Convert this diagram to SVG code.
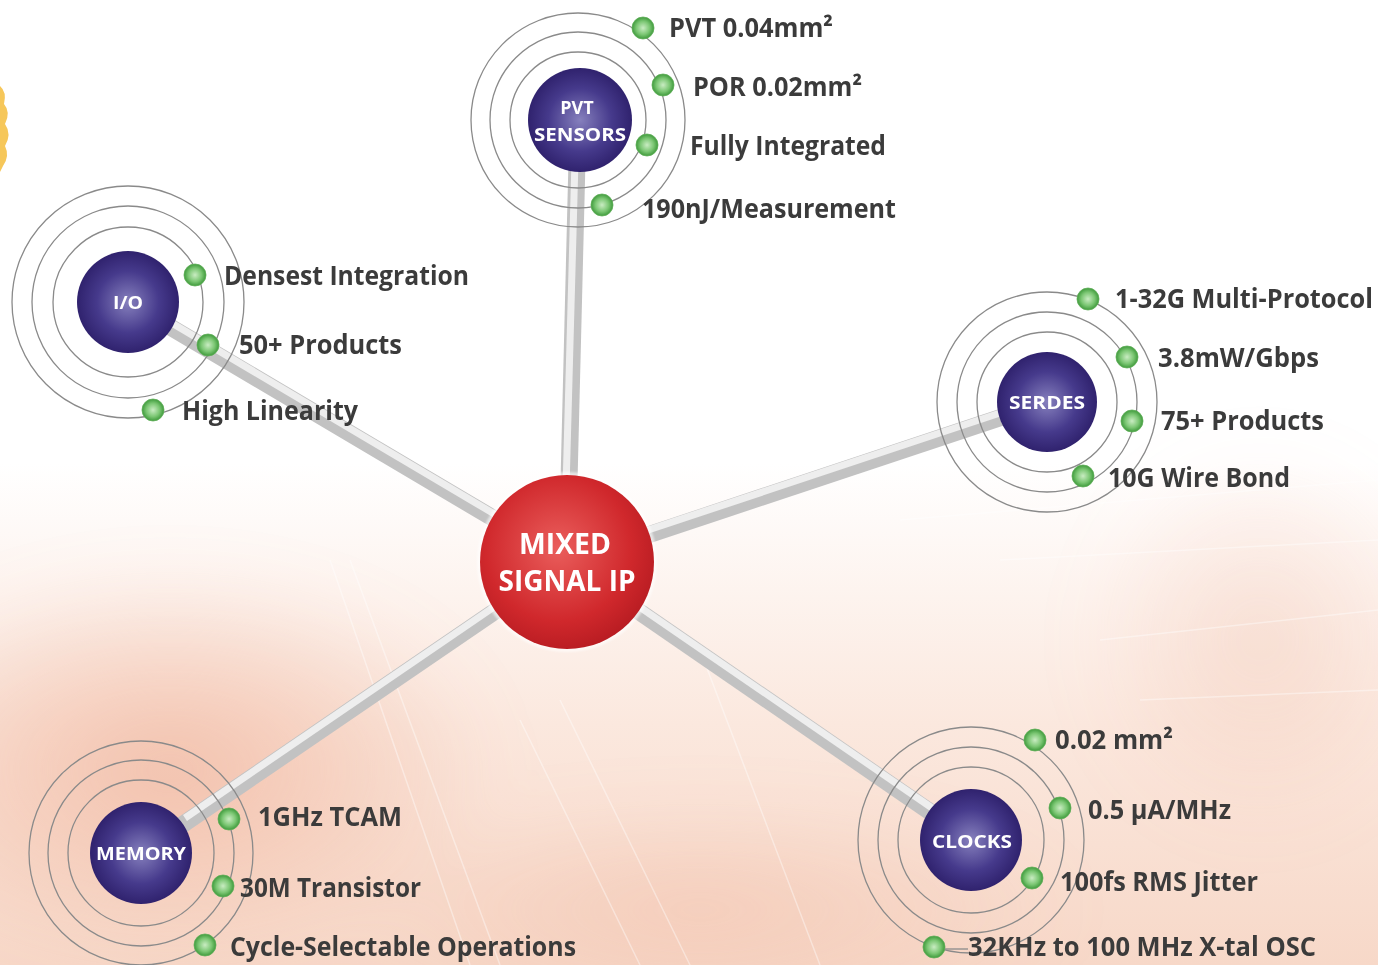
<svg xmlns="http://www.w3.org/2000/svg" width="1378" height="965" viewBox="0 0 1378 965">
  <defs>
    <linearGradient id="bgFade" x1="0" y1="0" x2="0" y2="1">
      <stop offset="0" stop-color="#ffffff"/>
      <stop offset="0.48" stop-color="#ffffff"/>
      <stop offset="0.75" stop-color="#fbe8de"/>
      <stop offset="1" stop-color="#f7d8c8"/>
    </linearGradient>
    <radialGradient id="warmBlob" cx="0.5" cy="0.5" r="0.5">
      <stop offset="0" stop-color="#f0b49c" stop-opacity="0.75"/>
      <stop offset="1" stop-color="#f0b49c" stop-opacity="0"/>
    </radialGradient>
    <radialGradient id="hubFill" cx="0.45" cy="0.42" r="0.6">
      <stop offset="0" stop-color="#ea5e5c"/>
      <stop offset="0.7" stop-color="#d0282c"/>
      <stop offset="1" stop-color="#b81c22"/>
    </radialGradient>
    <radialGradient id="nodeFill" cx="0.5" cy="0.5" r="0.55">
      <stop offset="0" stop-color="#8680bd"/>
      <stop offset="0.55" stop-color="#463a8c"/>
      <stop offset="1" stop-color="#2a1c66"/>
    </radialGradient>
    <radialGradient id="dotFill" cx="0.5" cy="0.5" r="0.5">
      <stop offset="0" stop-color="#c9ecc2"/>
      <stop offset="0.6" stop-color="#7cc774"/>
      <stop offset="1" stop-color="#3f9a3c"/>
    </radialGradient>
    <filter id="soft" x="-20%" y="-20%" width="140%" height="140%">
      <feGaussianBlur stdDeviation="1.2"/>
    </filter>
    <filter id="haze" x="-50%" y="-50%" width="200%" height="200%">
      <feGaussianBlur stdDeviation="30"/>
    </filter>
  </defs>
  <style>
    .ring { fill: none; stroke: #8a8a8a; stroke-width: 1.3; }
    .core { fill: url(#nodeFill); }
    .dot { fill: url(#dotFill); stroke: #5fae58; stroke-width: 0.8; }
    .label { font-family: "Open Sans", "Liberation Sans", sans-serif; font-weight: 700; font-size: 26px; fill: #3b3b3b; }
    .nodeText { font-family: "Open Sans", "Liberation Sans", sans-serif; font-weight: 700; font-size: 18px; fill: #ffffff; text-anchor: middle; }
    .hubText { font-family: "Open Sans", "Liberation Sans", sans-serif; font-weight: 700; font-size: 28px; fill: #ffffff; text-anchor: middle; }
    .barBase { stroke: #c2c2c2; stroke-width: 17; stroke-linecap: butt; }
    .barShine { stroke: #eeeeee; stroke-width: 7; stroke-linecap: butt; }
    .trace { stroke: #ffffff; stroke-width: 1.5; fill: none; opacity: 0.4; }
  </style>

  <!-- background wash -->
  <rect x="0" y="0" width="1378" height="965" fill="url(#bgFade)"/>
  <g filter="url(#haze)">
    <ellipse cx="170" cy="770" rx="330" ry="200" fill="url(#warmBlob)"/>
    <ellipse cx="700" cy="910" rx="380" ry="110" fill="url(#warmBlob)" opacity="0.5"/>
    <ellipse cx="1260" cy="640" rx="180" ry="200" fill="url(#warmBlob)" opacity="0.4"/>
  </g>
  <!-- faint circuit traces -->
  <g class="trace">
    <path d="M330 560 L470 965"/>
    <path d="M350 560 L500 965"/>
    <path d="M520 720 L640 965"/>
    <path d="M560 700 L690 965"/>
    <path d="M700 650 L820 965"/>
    <path d="M900 520 L1378 480"/>
    <path d="M1000 560 L1378 540"/>
    <path d="M1100 640 L1378 610"/>
    <path d="M1140 700 L1378 690"/>
  </g>

  <!-- yellow burst at the left edge -->
  <path d="M0 86 Q7 92 4 104 Q11 112 5 124 Q12 134 5 146 Q10 156 3 166 L0 172 Z" fill="#f6c75a"/>

  <!-- connectors -->
  <g id="connectors">
    <line class="barBase" x1="567" y1="562" x2="578" y2="120"/>
    <line class="barShine" x1="564" y1="562" x2="575" y2="160"/>
    <line class="barBase" x1="567" y1="562" x2="128" y2="302"/>
    <line class="barShine" x1="567" y1="557" x2="170" y2="322"/>
    <line class="barBase" x1="567" y1="562" x2="1047" y2="402"/>
    <line class="barShine" x1="567" y1="557" x2="1000" y2="413"/>
    <line class="barBase" x1="567" y1="562" x2="141" y2="853"/>
    <line class="barShine" x1="567" y1="557" x2="185" y2="818"/>
    <line class="barBase" x1="567" y1="562" x2="971" y2="840"/>
    <line class="barShine" x1="567" y1="557" x2="935" y2="810"/>
  </g>

  <!-- PVT sensors -->
  <g id="node-pvt">
    <circle class="ring" cx="578" cy="120" r="68"/>
    <circle class="ring" cx="578" cy="120" r="88"/>
    <circle class="ring" cx="578" cy="120" r="107"/>
    <circle class="core" cx="580" cy="120" r="52"/>
    <text class="nodeText" x="577" y="114">PVT</text>
    <text class="nodeText" x="580" y="141" textLength="92" lengthAdjust="spacingAndGlyphs">SENSORS</text>
    <circle class="dot" cx="643" cy="28" r="11"/>
    <circle class="dot" cx="663" cy="85" r="11"/>
    <circle class="dot" cx="647" cy="145" r="11"/>
    <circle class="dot" cx="602" cy="205" r="11"/>
    <text class="label" x="669" y="37" textLength="164" lengthAdjust="spacingAndGlyphs">PVT 0.04mm²</text>
    <text class="label" x="693" y="96" textLength="169" lengthAdjust="spacingAndGlyphs">POR 0.02mm²</text>
    <text class="label" x="690" y="155" textLength="196" lengthAdjust="spacingAndGlyphs">Fully Integrated</text>
    <text class="label" x="642" y="218" textLength="254" lengthAdjust="spacingAndGlyphs">190nJ/Measurement</text>
  </g>

  <!-- I/O -->
  <g id="node-io">
    <circle class="ring" cx="128" cy="302" r="75"/>
    <circle class="ring" cx="128" cy="302" r="96"/>
    <circle class="ring" cx="128" cy="302" r="116"/>
    <circle class="core" cx="128" cy="302" r="51"/>
    <text class="nodeText" x="128" y="309" textLength="30" lengthAdjust="spacingAndGlyphs">I/O</text>
    <circle class="dot" cx="195" cy="275" r="11"/>
    <circle class="dot" cx="208" cy="345" r="11"/>
    <circle class="dot" cx="153" cy="410" r="11"/>
    <text class="label" x="224" y="285" textLength="245" lengthAdjust="spacingAndGlyphs">Densest Integration</text>
    <text class="label" x="239" y="354" textLength="163" lengthAdjust="spacingAndGlyphs">50+ Products</text>
    <text class="label" x="182" y="420" textLength="176" lengthAdjust="spacingAndGlyphs">High Linearity</text>
  </g>

  <!-- SERDES -->
  <g id="node-serdes">
    <circle class="ring" cx="1047" cy="402" r="70"/>
    <circle class="ring" cx="1047" cy="402" r="90"/>
    <circle class="ring" cx="1047" cy="402" r="110"/>
    <circle class="core" cx="1047" cy="402" r="50"/>
    <text class="nodeText" x="1047" y="409" textLength="76" lengthAdjust="spacingAndGlyphs">SERDES</text>
    <circle class="dot" cx="1088" cy="299" r="11"/>
    <circle class="dot" cx="1127" cy="357" r="11"/>
    <circle class="dot" cx="1132" cy="421" r="11"/>
    <circle class="dot" cx="1083" cy="476" r="11"/>
    <text class="label" x="1115" y="308" textLength="258" lengthAdjust="spacingAndGlyphs">1-32G Multi-Protocol</text>
    <text class="label" x="1158" y="367" textLength="161" lengthAdjust="spacingAndGlyphs">3.8mW/Gbps</text>
    <text class="label" x="1161" y="430" textLength="163" lengthAdjust="spacingAndGlyphs">75+ Products</text>
    <text class="label" x="1108" y="487" textLength="182" lengthAdjust="spacingAndGlyphs">10G Wire Bond</text>
  </g>

  <!-- Memory -->
  <g id="node-memory">
    <circle class="ring" cx="141" cy="853" r="73"/>
    <circle class="ring" cx="141" cy="853" r="93"/>
    <circle class="ring" cx="141" cy="853" r="112"/>
    <circle class="core" cx="141" cy="853" r="51"/>
    <text class="nodeText" x="141" y="860" textLength="90" lengthAdjust="spacingAndGlyphs">MEMORY</text>
    <circle class="dot" cx="229" cy="819" r="11"/>
    <circle class="dot" cx="223" cy="886" r="11"/>
    <circle class="dot" cx="205" cy="945" r="11"/>
    <text class="label" x="258" y="826" textLength="144" lengthAdjust="spacingAndGlyphs">1GHz TCAM</text>
    <text class="label" x="240" y="897" textLength="181" lengthAdjust="spacingAndGlyphs">30M Transistor</text>
    <text class="label" x="230" y="956" textLength="346" lengthAdjust="spacingAndGlyphs">Cycle-Selectable Operations</text>
  </g>

  <!-- Clocks -->
  <g id="node-clocks">
    <circle class="ring" cx="971" cy="840" r="73"/>
    <circle class="ring" cx="971" cy="840" r="93"/>
    <circle class="ring" cx="971" cy="840" r="113"/>
    <circle class="core" cx="971" cy="840" r="51"/>
    <text class="nodeText" x="972" y="848" textLength="80" lengthAdjust="spacingAndGlyphs">CLOCKS</text>
    <circle class="dot" cx="1035" cy="740" r="11"/>
    <circle class="dot" cx="1060" cy="808" r="11"/>
    <circle class="dot" cx="1032" cy="878" r="11"/>
    <circle class="dot" cx="934" cy="947" r="11"/>
    <line x1="945" y1="949" x2="968" y2="949" stroke="#8a8a8a" stroke-width="1.3"/>
    <text class="label" x="1055" y="749" textLength="118" lengthAdjust="spacingAndGlyphs">0.02 mm²</text>
    <text class="label" x="1088" y="819" textLength="143" lengthAdjust="spacingAndGlyphs">0.5 µA/MHz</text>
    <text class="label" x="1060" y="891" textLength="198" lengthAdjust="spacingAndGlyphs">100fs RMS Jitter</text>
    <text class="label" x="968" y="956" textLength="348" lengthAdjust="spacingAndGlyphs">32KHz to 100 MHz X-tal OSC</text>
  </g>

  <!-- central hub -->
  <g id="node-hub">
    <circle cx="567" cy="562" r="90" fill="#ffffff" opacity="0.6" filter="url(#soft)"/>
    <circle cx="567" cy="562" r="87" fill="url(#hubFill)"/>
    <text class="hubText" x="565" y="554" textLength="92" lengthAdjust="spacingAndGlyphs">MIXED</text>
    <text class="hubText" x="567" y="591" textLength="137" lengthAdjust="spacingAndGlyphs">SIGNAL IP</text>
  </g>
</svg>
